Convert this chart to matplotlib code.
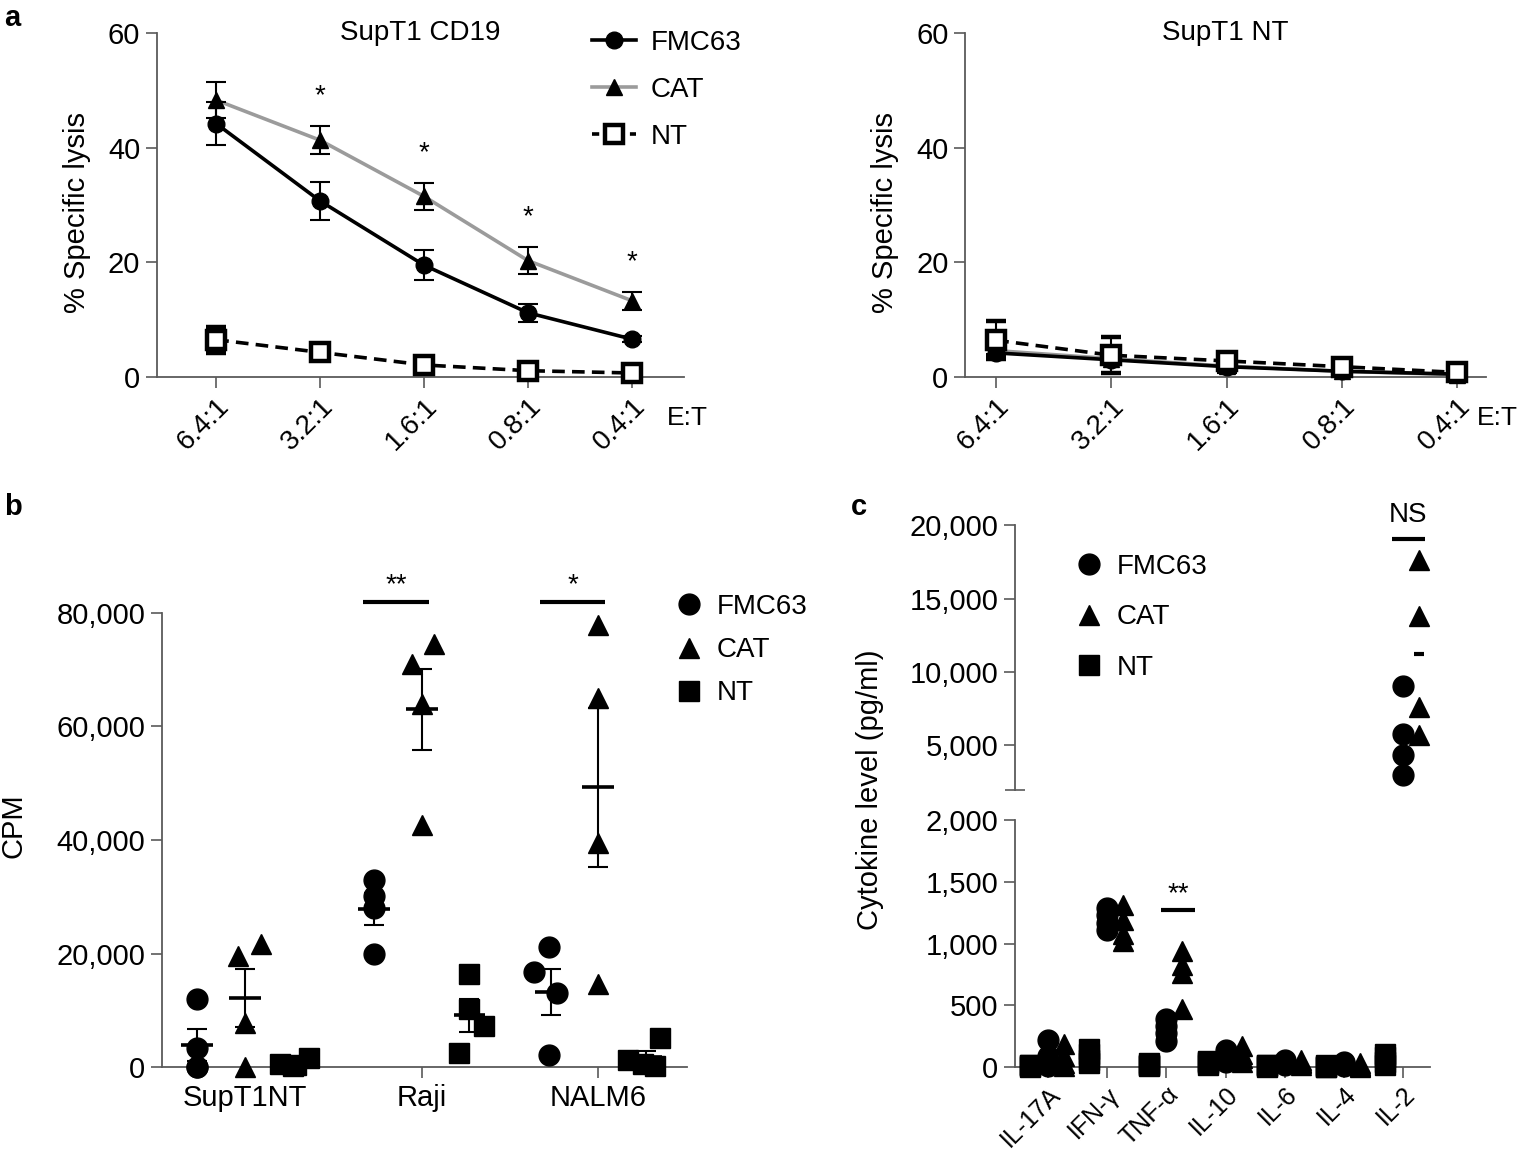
import numpy as np
import matplotlib
matplotlib.use('Agg')
import matplotlib.pyplot as plt
from matplotlib.lines import Line2D
from matplotlib.ticker import FuncFormatter

plt.rcParams['font.family'] = ['Liberation Sans Narrow', 'Liberation Sans', 'DejaVu Sans']

# ---------------- data ----------------
# panel a : % specific lysis at each E:T ratio
ratios = ['6.4:1', '3.2:1', '1.6:1', '0.8:1', '0.4:1']
cd19_fmc63 = [44.2, 30.7, 19.5, 11.2, 6.6]
cd19_fmc63_err = [3.8, 3.3, 2.6, 1.6, 0.5]
cd19_cat = [48.3, 41.3, 31.5, 20.3, 13.3]
cd19_cat_err = [3.2, 2.4, 2.4, 2.3, 1.6]
cd19_nt = [6.5, 4.3, 2.1, 1.1, 0.7]
cd19_nt_err = [2.3, 0.8, 0.6, 0.5, 0.3]
cd19_stars = ['', '*', '*', '*', '*']

supnt_fmc63 = [4.2, 3.0, 1.8, 1.0, 0.5]
supnt_fmc63_err = [0.6, 0.5, 0.4, 0.3, 0.2]
supnt_cat = [4.6, 3.2, 1.9, 1.0, 0.4]
supnt_cat_err = [0.5, 0.5, 1.2, 0.4, 0.2]
supnt_nt = [6.4, 3.8, 2.8, 1.8, 0.8]
supnt_nt_err = [3.3, 3.1, 0.8, 0.6, 0.4]

# panel b : CPM per target line (4 replicates)
targets = ['SupT1NT', 'Raji', 'NALM6']
cpm_fmc63 = [[12000, 3400, 0, 0], [33000, 30200, 28000, 19900], [21100, 16700, 13100, 2100]]
cpm_cat = [[19500, 21600, 7700, 0], [71000, 74600, 64000, 42600], [77900, 65100, 39500, 14700]]
cpm_nt = [[600, 100, 300, 1600], [16400, 10200, 7300, 2500], [1200, 500, 100, 5100]]
cpm_sig = ['', '**', '*']

# panel c : cytokine levels (pg/ml)
cytokines = ['IL-17A', 'IFN-γ', 'TNF-α', 'IL-10', 'IL-6', 'IL-4', 'IL-2']
cyto_fmc63 = [[220, 90, 40, 10], [1290, 1230, 1170, 1110], [390, 330, 280, 210], [140, 90, 60, 40],
              [60, 40, 30, 20], [40, 30, 20, 10], [9020, 5780, 4370, 2990]]
cyto_cat = [[190, 90, 30, 10], [1310, 1190, 1080, 1020], [940, 830, 760, 470], [170, 110, 70, 40],
            [55, 40, 30, 20], [30, 20, 10, 5], [17640, 13820, 7590, 5720]]
cyto_nt = [[20, 15, 10, 5], [150, 110, 60, 30], [30, 20, 15, 10], [50, 40, 30, 20],
           [20, 15, 10, 5], [15, 10, 5, 5], [110, 80, 40, 20]]

# ---------------- style ----------------
FS = 21
LFS = 20
GREY = '#9b9b9b'
SPINE = '#5a5a5a'
comma = FuncFormatter(lambda v, p: '{:,.0f}'.format(v))

fig = plt.figure(figsize=(15.21, 11.52), dpi=100)


def style_axes(ax):
    for s in ['top', 'right']:
        ax.spines[s].set_visible(False)
    for s in ['left', 'bottom']:
        ax.spines[s].set_color(SPINE)
        ax.spines[s].set_linewidth(1.3)
    ax.tick_params(direction='out', length=8, width=1.2, color=SPINE, labelsize=FS, pad=4)


# ---------------- panel a ----------------
def lysis_panel(rect, title, fm, fm_e, ca, ca_e, nt, nt_e, xlim, stars=None):
    ax = fig.add_axes(rect)
    x = np.arange(len(ratios))
    ax.errorbar(x, ca, yerr=ca_e, color=GREY, lw=2.6, ecolor='black', elinewidth=1.5, capsize=7,
                capthick=1.5, marker='^', ms=12, mfc='black', mec='black', zorder=3)
    ax.errorbar(x, fm, yerr=fm_e, color='black', lw=2.6, elinewidth=1.5, capsize=7, capthick=1.5,
                marker='o', ms=12, mfc='black', mec='black', zorder=4)
    ax.errorbar(x, nt, yerr=nt_e, color='black', lw=2.6, ls=(0, (3.5, 2)), elinewidth=1.5, capsize=7,
                capthick=1.5, marker='s', ms=13, mfc='white', mec='black', mew=3.2, zorder=5)
    if stars:
        for i, s in enumerate(stars):
            if s:
                ax.text(x[i], ca[i] + ca_e[i] + 5.2, s, ha='center', va='center', fontsize=LFS)
    style_axes(ax)
    ax.set_xlim(*xlim)
    ax.set_ylim(-2.5, 60)
    ax.spines['left'].set_bounds(0, 60)
    ax.spines['bottom'].set_position(('data', 0))
    ax.set_yticks([0, 20, 40, 60])
    ax.set_xticks(x)
    ax.set_xticklabels(ratios, rotation=45, ha='right', rotation_mode='anchor')
    ax.tick_params(axis='x', labelsize=20)
    ax.set_ylabel('% Specific lysis', fontsize=FS, labelpad=12)
    ax.text(0.5, 1.0, title, transform=ax.transAxes, ha='center', va='center', fontsize=LFS)
    return ax


axa1 = lysis_panel([0.1032, 0.6603, 0.3465, 0.311], 'SupT1 CD19', cd19_fmc63, cd19_fmc63_err,
                   cd19_cat, cd19_cat_err, cd19_nt, cd19_nt_err, (-0.57, 4.5), cd19_stars)
axa2 = lysis_panel([0.6345, 0.6603, 0.3425, 0.311], 'SupT1 NT', supnt_fmc63, supnt_fmc63_err,
                   supnt_cat, supnt_cat_err, supnt_nt, supnt_nt_err, (-0.27, 4.25))
fig.text(667 / 1521, 1 - 418 / 1152, 'E:T', fontsize=19, va='center')
fig.text(1477 / 1521, 1 - 418 / 1152, 'E:T', fontsize=19, va='center')

h_a = [Line2D([], [], color='black', lw=2.6, marker='o', ms=12),
       Line2D([], [], color=GREY, lw=2.6, marker='^', ms=12, mfc='black', mec='black'),
       Line2D([], [], color='black', lw=2.6, ls=(0, (2, 1.5)), marker='s', ms=13, mfc='white', mew=3.2)]
fig.legend(h_a, ['FMC63', 'CAT', 'NT'], loc='upper left', bbox_to_anchor=(592 / 1521, 1 - 30 / 1152),
           frameon=False, fontsize=LFS, handlelength=1.6, labelspacing=0.75, handletextpad=0.5,
           borderpad=0, borderaxespad=0)

# ---------------- panel b ----------------
axb = fig.add_axes([0.1065, 0.059, 0.345, 0.4483])
off = {'fmc': -0.27, 'cat': 0.0, 'nt': 0.27}
jit_fmc = [[0, 0, 0, 0], [0, 0, 0, 0], [-0.01, -0.095, 0.035, -0.01]]
jit_cat = [[-0.04, 0.09, 0, 0], [-0.055, 0.07, 0, 0], [0, 0, 0, 0]]
jit_nt = [[-0.07, 0.0, 0.02, 0.09], [0, 0, 0.08, -0.06], [-0.1, -0.02, 0.05, 0.08]]
groups_b = [(cpm_fmc63, jit_fmc, 'o', 15, off['fmc']), (cpm_nt, jit_nt, 's', 14, off['nt']),
            (cpm_cat, jit_cat, '^', 15, off['cat'])]
for vals, jit, mk, ms, o in groups_b:
    for i in range(len(targets)):
        v = np.array(vals[i], dtype=float)
        xs = i + o + np.array(jit[i])
        axb.plot(xs, v, mk, color='black', ms=ms, zorder=3)
        m = v.mean()
        se = v.std(ddof=1) / np.sqrt(len(v))
        axb.errorbar(i + o, m, yerr=se, color='black', elinewidth=1.5, capsize=7, capthick=1.5, zorder=4)
        axb.hlines(m, i + o - 0.09, i + o + 0.09, color='black', lw=2.6, zorder=4)
for i, s in enumerate(cpm_sig):
    if s:
        axb.hlines(82000, i - 0.33, i + 0.04, color='black', lw=3)
        axb.text(i - 0.145, 84900, s, ha='center', va='center', fontsize=LFS)
style_axes(axb)
axb.set_xlim(-0.47, 2.5)
axb.set_ylim(-3000, 88000)
axb.spines['left'].set_bounds(0, 80000)
axb.spines['bottom'].set_position(('data', 0))
axb.set_yticks([0, 20000, 40000, 60000, 80000])
axb.yaxis.set_major_formatter(comma)
axb.set_xticks(range(len(targets)))
axb.set_xticklabels(targets)
axb.set_ylabel('CPM', fontsize=FS, labelpad=21)

h_b = [Line2D([], [], ls='none', marker='o', color='black', ms=15),
       Line2D([], [], ls='none', marker='^', color='black', ms=15),
       Line2D([], [], ls='none', marker='s', color='black', ms=14)]
fig.legend(h_b, ['FMC63', 'CAT', 'NT'], loc='upper left', bbox_to_anchor=(675 / 1521, 1 - 594 / 1152),
           frameon=False, fontsize=LFS, handlelength=1.0, labelspacing=0.62, handletextpad=0.5,
           borderpad=0, borderaxespad=0)

# ---------------- panel c ----------------
axc_up = fig.add_axes([0.6673, 0.3146, 0.273, 0.2488])
axc_lo = fig.add_axes([0.6673, 0.0608, 0.273, 0.2274])
off_c = {'nt': -0.3, 'fmc': 0.0, 'cat': 0.27}
groups_c = [(cyto_nt, 's', 14, off_c['nt']), (cyto_fmc63, 'o', 15, off_c['fmc']),
            (cyto_cat, '^', 15, off_c['cat'])]
BREAK = 2000
for ax, keep in ((axc_up, lambda v: v >= BREAK), (axc_lo, lambda v: v < BREAK)):
    for vals, mk, ms, o in groups_c:
        for i in range(len(cytokines)):
            v = np.array(vals[i], dtype=float)
            m = v.mean()
            v = v[keep(v)]
            if len(v):
                ax.plot(np.full(len(v), i + o), v, mk, color='black', ms=ms, zorder=3)
            if keep(m):
                ax.hlines(m, i + o - 0.09, i + o + 0.09, color='black', lw=3, zorder=2)
    style_axes(ax)
    ax.set_xlim(-0.56, 6.46)

axc_up.set_ylim(BREAK, 21500)
axc_up.spines['bottom'].set_visible(False)
axc_up.spines['left'].set_bounds(BREAK, 20000)
axc_up.set_yticks([5000, 10000, 15000, 20000])
axc_up.set_yticks([BREAK], minor=True)
axc_up.tick_params(which='minor', direction='inout', length=14, width=1.2, color=SPINE)
axc_up.yaxis.set_major_formatter(comma)
axc_up.set_xticks([])
# NS over IL-2
il2 = cytokines.index('IL-2')
axc_up.hlines(19080, il2 - 0.18, il2 + 0.37, color='black', lw=3)
axc_up.text(il2 + 0.09, 20650, 'NS', ha='center', va='center', fontsize=LFS)

axc_lo.set_ylim(-120, BREAK)
axc_lo.spines['left'].set_bounds(0, BREAK)
axc_lo.spines['bottom'].set_position(('data', 0))
axc_lo.set_yticks([0, 500, 1000, 1500, 2000])
axc_lo.set_yticks([BREAK], minor=True)
axc_lo.tick_params(which='minor', direction='in', length=7, width=1.2, color=SPINE)
axc_lo.yaxis.set_major_formatter(comma)
axc_lo.set_xticks(range(len(cytokines)))
axc_lo.set_xticklabels(cytokines, rotation=45, ha='right', rotation_mode='anchor')
axc_lo.tick_params(axis='x', labelsize=18, pad=3)
tnf = cytokines.index('TNF-α')
axc_lo.hlines(1270, tnf - 0.09, tnf + 0.49, color='black', lw=3)
axc_lo.text(tnf + 0.2, 1400, '**', ha='center', va='center', fontsize=LFS)

fig.text(870 / 1521, 1 - 790 / 1152, 'Cytokine level (pg/ml)', rotation=90, ha='center', va='center',
         fontsize=FS)

h_c = [Line2D([], [], ls='none', marker='o', color='black', ms=15),
       Line2D([], [], ls='none', marker='^', color='black', ms=15),
       Line2D([], [], ls='none', marker='s', color='black', ms=14)]
fig.legend(h_c, ['FMC63', 'CAT', 'NT'], loc='upper left', bbox_to_anchor=(1075 / 1521, 1 - 554 / 1152),
           frameon=False, fontsize=LFS, handlelength=1.0, labelspacing=0.88, handletextpad=0.5,
           borderpad=0, borderaxespad=0)

# panel letters
fig.text(4 / 1521, 1 - 18 / 1152, 'a', fontsize=21, fontweight='bold', va='center')
fig.text(4 / 1521, 1 - 507 / 1152, 'b', fontsize=21, fontweight='bold', va='center')
fig.text(851 / 1521, 1 - 507 / 1152, 'c', fontsize=21, fontweight='bold', va='center')

fig.savefig('out.png', dpi=100)
